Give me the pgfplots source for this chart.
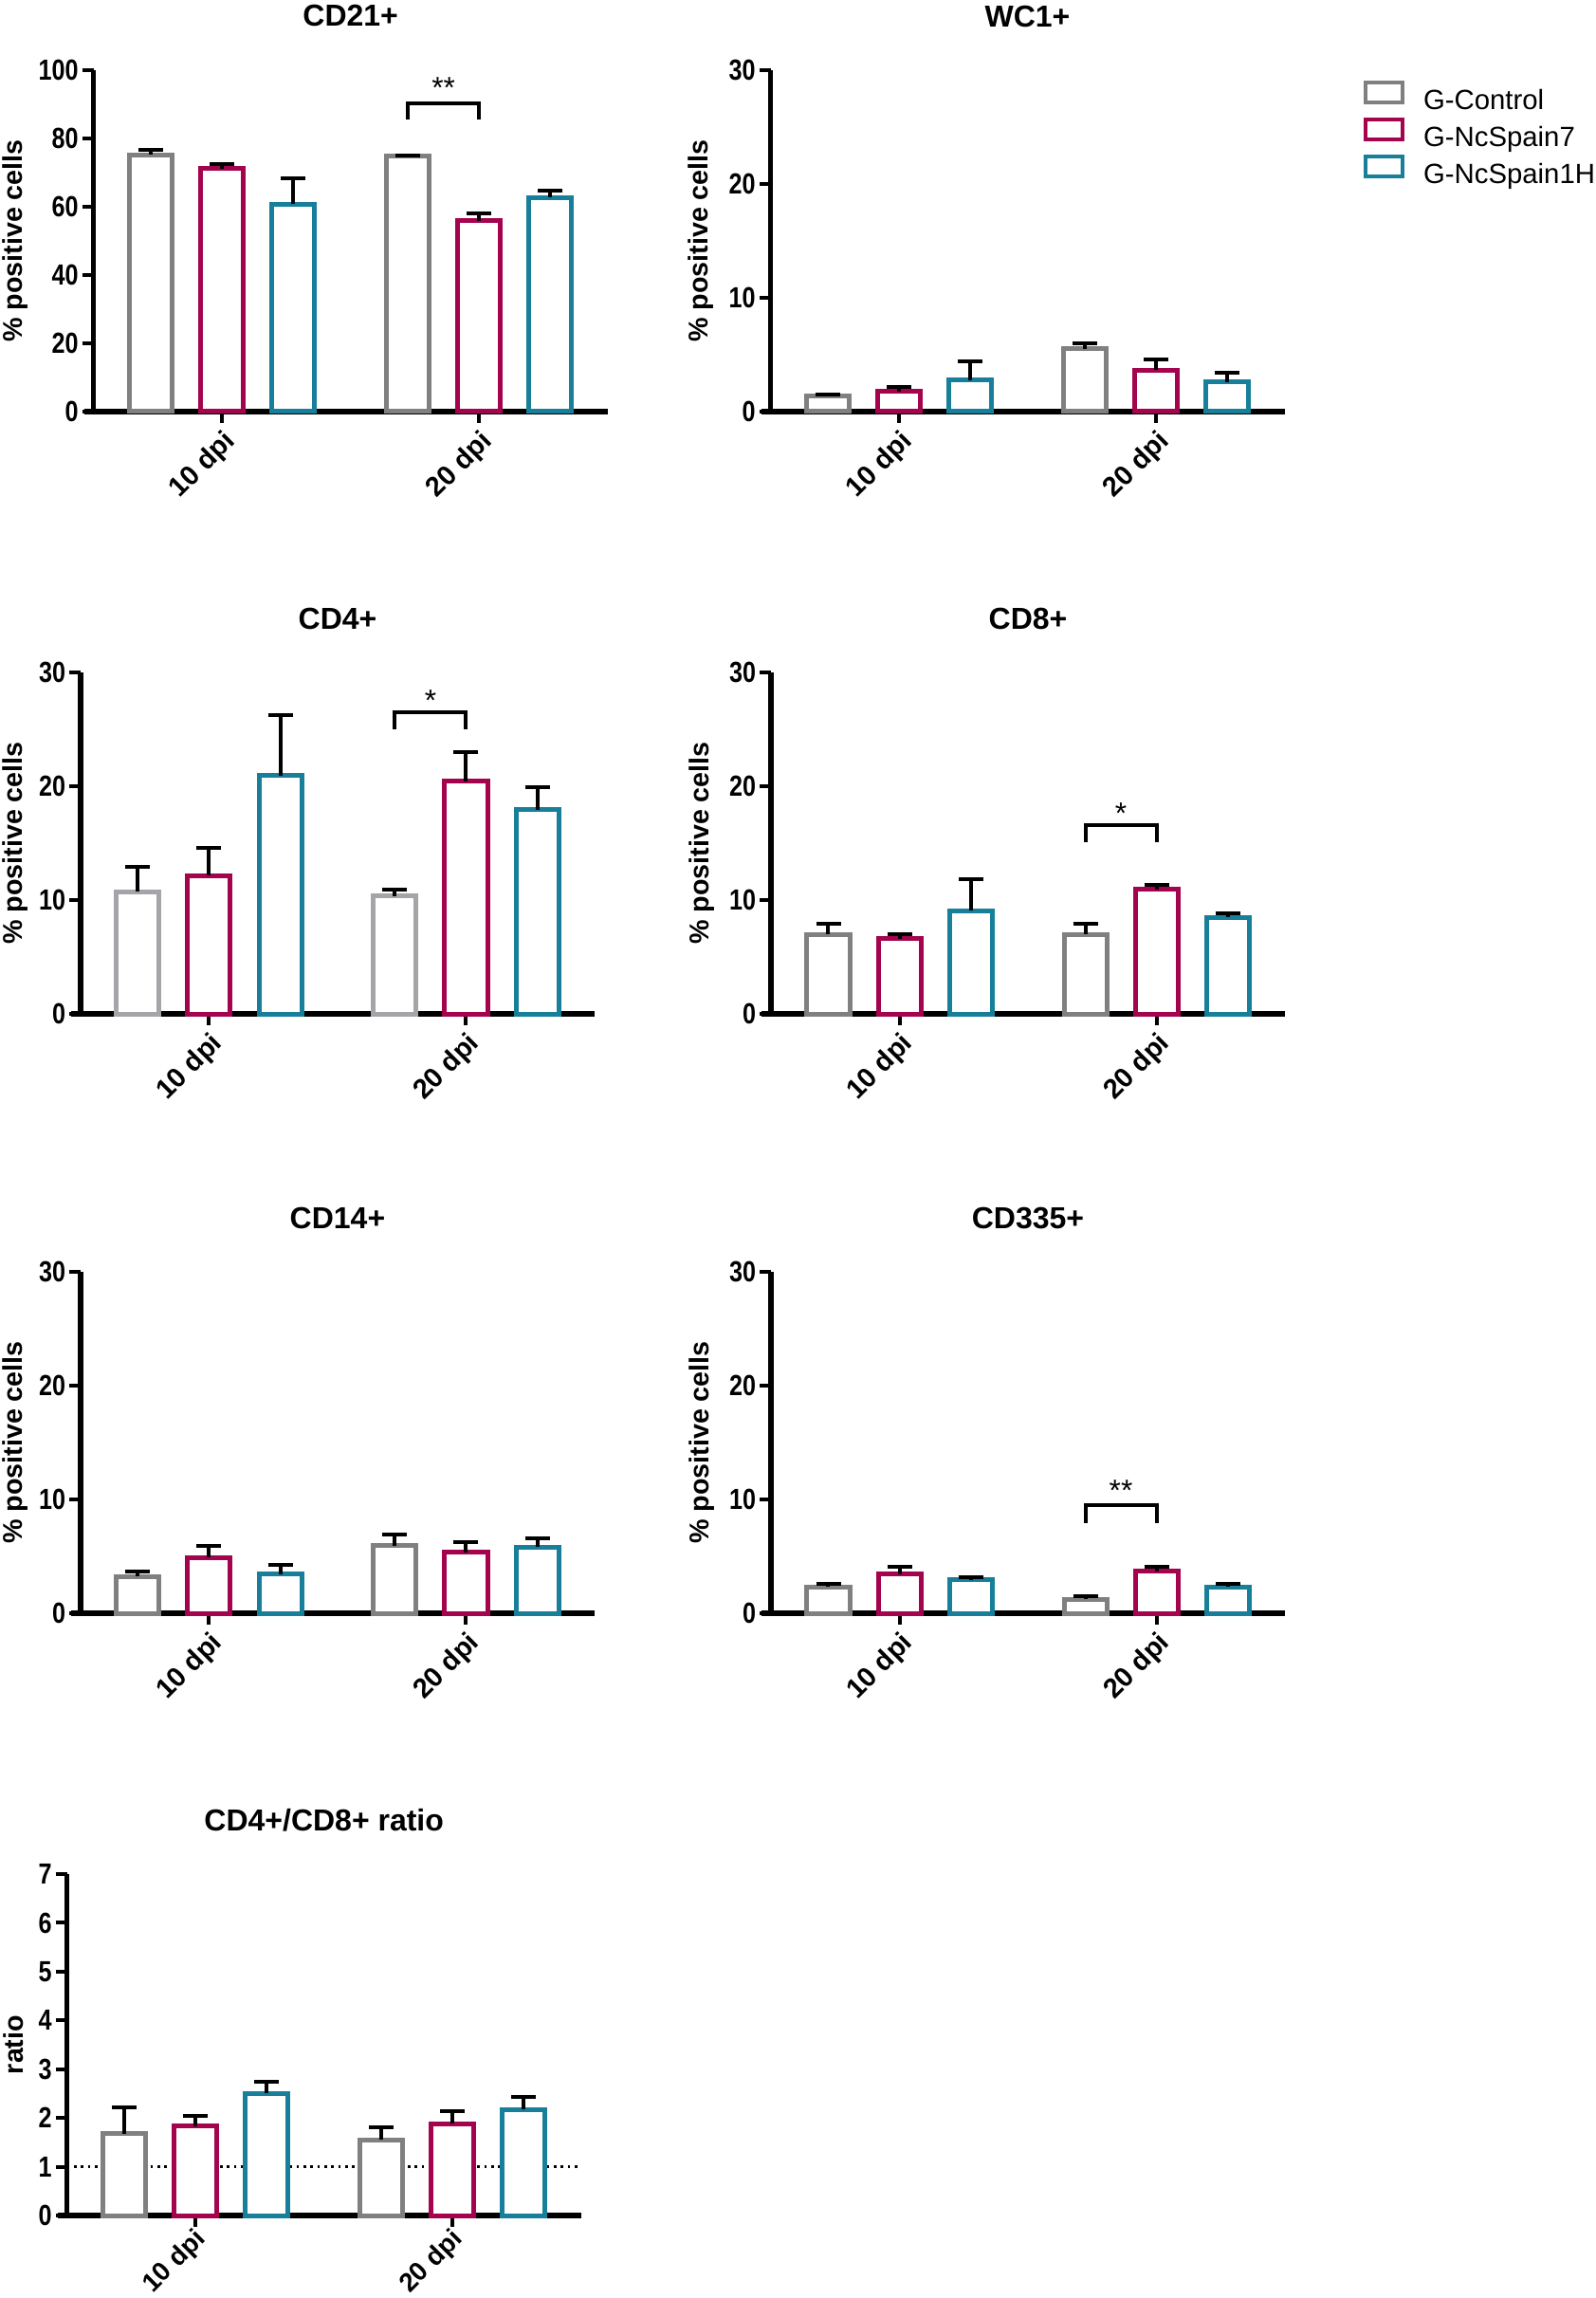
\documentclass[border=0pt]{standalone}
\usepackage{pgfplots}
\usepackage{pgfplotstable}
\pgfplotsset{compat=1.18}
\usepackage{fontspec}
\setmainfont{Liberation Sans}
\newfontfamily\narrowfont{Liberation Sans}[FakeStretch=0.82]
\definecolor{cgray}{HTML}{808080}
\definecolor{cgrayl}{HTML}{A4A4A9}
\definecolor{cred}{HTML}{A3044D}
\definecolor{cteal}{HTML}{177F9A}

% columns: x, mean and error (upper SEM) of G-Control, G-NcSpain7, G-NcSpain1H
\pgfplotstableread{
x g ge r re t te
0 75.2 1.4 71.2 1.2 60.7 7.5
1 74.8 0.3 55.9 2.2 62.7 2.1
}\cdtwentyone
\pgfplotstableread{
x g ge r re t te
0 1.40 0.10 1.75 0.40 2.75 1.65
1 5.50 0.50 3.65 0.90 2.60 0.85
}\wcone
\pgfplotstableread{
x g ge r re t te
0 10.75 2.15 12.15 2.40 20.95 5.30
1 10.35 0.55 20.45 2.55 17.95 2.00
}\cdfour
\pgfplotstableread{
x g ge r re t te
0 7.00 0.90 6.60 0.40 9.05 2.75
1 7.00 0.90 10.95 0.35 8.50 0.35
}\cdeight
\pgfplotstableread{
x g ge r re t te
0 3.25 0.40 4.90 1.05 3.45 0.80
1 5.95 0.95 5.35 0.90 5.80 0.80
}\cdfourteen
\pgfplotstableread{
x g ge r re t te
0 2.30 0.30 3.45 0.60 2.95 0.25
1 1.25 0.25 3.70 0.40 2.30 0.30
}\cdthreethreefive
\pgfplotstableread{
x g ge r re t te
0 1.68 0.54 1.83 0.22 2.50 0.24
1 1.55 0.26 1.88 0.26 2.17 0.27
}\ratio

\pgfplotsset{
  panel/.style={
    scale only axis, width=162.6pt, height=108pt, anchor=south west,
    axis x line*=bottom, axis y line*=left,
    axis line style={line width=1.6pt, black},
    xmin=-0.5, xmax=1.5, ymin=0,
    xtick={0,1}, xticklabels={10 dpi,20 dpi},
    x tick label style={rotate=45, anchor=north east, inner sep=1pt, font=\bfseries\fontsize{8.7}{10}\selectfont},
    y tick label style={inner sep=1pt, font=\narrowfont\bfseries\fontsize{9.2}{10}\selectfont},
    /pgf/number format/assume math mode=true,
    tick style={black, line width=1.2pt},
    tick align=outside, major tick length=3.6pt,
    ylabel style={font=\bfseries\fontsize{8.6}{10}\selectfont, anchor=center},
    title style={font=\bfseries\fontsize{9.6}{11}\selectfont, at={(0.5,1)}, anchor=base, yshift=7.8pt},
    clip=false,
    ylabel={\% positive cells},
  },
  ylabpos/.style={ylabel style={at={(axis description cs:-#1,0.5)}}},
  bars/.style={ybar, bar width=13.5pt, bar shift=0pt, line width=1.5pt, fill=white, draw=#1,
    legend image code/.code={\draw[line width=1.2pt] (0pt,0pt) rectangle (11.7pt,6.3pt);},
    /pgfplots/error bars/y dir=plus, /pgfplots/error bars/y explicit,
    /pgfplots/error bars/error bar style={line width=1.2pt, black, solid},
    /pgfplots/error bars/error mark options={rotate=90, mark size=3.9pt, line width=1.2pt, black}},
}
\newcommand{\threebars}[2]{%
  \addplot[bars=#2] table[x expr=\thisrow{x}-0.2768, y=g, y error=ge] {#1};
  \addplot[bars=cred] table[x=x, y=r, y error=re] {#1};
  \addplot[bars=cteal] table[x expr=\thisrow{x}+0.2768, y=t, y error=te] {#1};
  \draw[line width=1.6pt, black] (axis cs:-0.5,0) -- ++(-2.9pt,0pt);
}
\newcommand{\bracket}[4]{% #1 leg bottom, #2 bracket top, #3 stars
  \draw[line width=1.2pt, black] (axis cs:0.7232,#1) -- (axis cs:0.7232,#2) -- (axis cs:1,#2) -- (axis cs:1,#1);
  \node[anchor=base, font=\fontsize{9.5}{10}\selectfont, inner sep=0pt, yshift=#4] at (axis cs:0.8616,#2) {#3};
}

\begin{document}
\begin{tikzpicture}
\path[use as bounding box] (0pt,0pt) rectangle (504.9pt,-726.9pt);

% CD21+
\begin{axis}[panel, ylabpos=0.153, at={(29.61pt,-130.2pt)}, title={CD21+}, ymax=100, ytick={0,20,40,60,80,100}]
\threebars{\cdtwentyone}{cgray}
\bracket{85.5}{90.4}{**}{1.5pt}
\end{axis}

% WC1+
\begin{axis}[panel, ylabpos=0.135, at={(243.75pt,-130.2pt)}, title={WC1+}, ymax=30, ytick={0,10,20,30},
  legend style={at={(1.153,0.972)}, anchor=north west, draw=none, fill=none,
    font=\fontsize{8.8}{10}\selectfont, row sep=0.6pt, inner sep=0pt,
    nodes={inner sep=0pt, text height=6.5pt, text depth=2pt},
    /tikz/every odd column/.append style={column sep=6pt}},
  legend cell align=left]
\threebars{\wcone}{cgray}
\legend{G-Control,G-NcSpain7,G-NcSpain1H}
\end{axis}

% CD4+
\begin{axis}[panel, ylabpos=0.127, at={(25.5pt,-320.7pt)}, title={CD4+}, ymax=30, ytick={0,10,20,30}]
\threebars{\cdfour}{cgrayl}
\bracket{25.0}{26.5}{*}{0.5pt}
\end{axis}

% CD8+
\begin{axis}[panel, ylabpos=0.135, at={(243.9pt,-320.7pt)}, title={CD8+}, ymax=30, ytick={0,10,20,30}]
\threebars{\cdeight}{cgray}
\bracket{15.1}{16.6}{*}{0.5pt}
\end{axis}

% CD14+
\begin{axis}[panel, ylabpos=0.127, at={(25.5pt,-510.3pt)}, title={CD14+}, ymax=30, ytick={0,10,20,30}]
\threebars{\cdfourteen}{cgray}
\end{axis}

% CD335+
\begin{axis}[panel, ylabpos=0.135, at={(243.9pt,-510.3pt)}, title={CD335+}, ymax=30, ytick={0,10,20,30}]
\threebars{\cdthreethreefive}{cgray}
\bracket{7.95}{9.5}{**}{1.5pt}
\end{axis}

% CD4+/CD8+ ratio
\begin{axis}[panel, ylabpos=0.105, at={(21.21pt,-700.8pt)}, title={CD4+/CD8+ ratio}, ymax=7, ytick={0,1,...,7}, ylabel={ratio},
  x tick label style={font=\bfseries\fontsize{8.3}{10}\selectfont, inner sep=0.3pt, yshift=1.2pt}]
\addplot[black, line width=1pt, dash pattern=on 0.8pt off 1.4pt, sharp plot, forget plot] coordinates {(-0.5,1) (1.5,1)};
\threebars{\ratio}{cgray}
\end{axis}
\end{tikzpicture}
\end{document}
